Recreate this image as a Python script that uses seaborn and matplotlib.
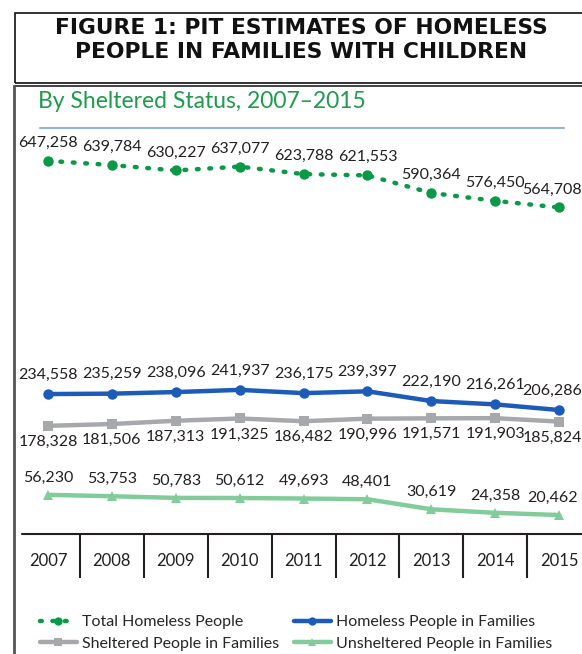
import matplotlib
matplotlib.use('Agg')
import matplotlib.pyplot as plt
import seaborn as sns
from matplotlib.lines import Line2D
from matplotlib.patches import Rectangle

# Data
years = ['2007', '2008', '2009', '2010', '2011', '2012', '2013', '2014', '2015']
total_homeless = [647258, 639784, 630227, 637077, 623788, 621553, 590364, 576450, 564708]
homeless_families = [234558, 235259, 238096, 241937, 236175, 239397, 222190, 216261, 206286]
sheltered_families = [178328, 181506, 187313, 191325, 186482, 190996, 191571, 191903, 185824]
unsheltered_families = [56230, 53753, 50783, 50612, 49693, 48401, 30619, 24358, 20462]
idx = list(range(len(years)))

# Style
sns.set_style('white')
plt.rcParams['font.family'] = ['Lato', 'DejaVu Sans']

W, H = 582, 654
fx = lambda px: px / W            # pixel -> figure fraction (x)
fy = lambda py: 1 - py / H        # pixel -> figure fraction (y)

fig = plt.figure(figsize=(W / 100, H / 100), dpi=100)

# Main line axes
ax = fig.add_axes([fx(16), fy(526.6), fx(566), (526.6 - 135) / H])
ax.set_xlim(-0.5, 8.357)
ax.set_ylim(0, 693000)

series = [
    ('Total Homeless People', total_homeless, '#0A9A47', 'o', dict(linestyle=(0, (0.4, 2.4)), dash_capstyle='round'), 13),
    ('Homeless People in Families', homeless_families, '#1C5CB8', 'o', dict(linestyle='-'), 14),
    ('Sheltered People in Families', sheltered_families, '#A6A8AB', 's', dict(linestyle='-'), -11.5),
    ('Unsheltered People in Families', unsheltered_families, '#82CC9C', '^', dict(linestyle='-'), 12.5),
]

handles = {}
for name, vals, col, mk, ls, dy in series:
    sns.lineplot(x=idx, y=vals, ax=ax, color=col, lw=3.2, marker=mk, markersize=7.5,
                 markeredgewidth=0, label=name, **ls)
    handles[name] = ax.lines[-1]
    for i, v in zip(idx, vals):
        dx = -5 if i == idx[-1] else 0   # keep the last label inside the page
        ax.annotate(f'{v:,}', (i, v), xytext=(dx, dy), textcoords='offset points',
                    ha='center', va='center', fontsize=11.5, color='#231F20')

if ax.get_legend() is not None:
    ax.get_legend().remove()
ax.axis('off')

# Year table below the chart
tab = fig.add_axes([fx(16), fy(578), fx(566), 44 / H])
tab.set_xlim(ax.get_xlim())
tab.set_ylim(0, 1)
tab.axhline(1, xmin=6 / 566, color='#231F20', lw=1.5, clip_on=False)
tab.vlines([i + 0.5 for i in idx[:-1]], 0, 1, color='#231F20', lw=1.5)
for i, y in zip(idx, years):
    tab.text(i, 0.38, y, ha='center', va='center', fontsize=12, color='#231F20')
tab.axis('off')

# Legends (two columns)
leg_kw = dict(frameon=False, fontsize=11.5, handlelength=2.3, handletextpad=0.3,
              labelspacing=0.45, borderpad=0, borderaxespad=0, loc='center left', markerscale=0.8)
fig.legend(handles=[handles['Total Homeless People'], handles['Sheltered People in Families']],
           bbox_to_anchor=(fx(40), fy(633)), **leg_kw)
fig.legend(handles=[handles['Homeless People in Families'], handles['Unsheltered People in Families']],
           bbox_to_anchor=(fx(294), fy(633)), **leg_kw)

# Title box
fig.add_artist(Rectangle((fx(15), fy(83)), fx(600), (83 - 13) / H, transform=fig.transFigure,
                         fill=False, edgecolor='#111111', lw=1.2))
fig.text(fx(301), fy(27.5), 'FIGURE 1: PIT ESTIMATES OF HOMELESS', ha='center', va='center',
         fontsize=15.7, fontweight='bold', family='DejaVu Sans', color='#111111')
fig.text(fx(301), fy(52.5), 'PEOPLE IN FAMILIES WITH CHILDREN', ha='center', va='center',
         fontsize=15.7, fontweight='bold', family='DejaVu Sans', color='#111111')

# Chart frame
fig.add_artist(Line2D([fx(14), fx(582)], [fy(86), fy(86)], transform=fig.transFigure, color='#222222', lw=1.2))
fig.add_artist(Line2D([fx(14), fx(14)], [fy(86), fy(654)], transform=fig.transFigure, color='#555555', lw=2))

# Subtitle and rule
fig.text(fx(38), fy(101), 'By Sheltered Status, 2007\u20132015', ha='left', va='center',
         fontsize=16.5, color='#1E9B4C')
fig.add_artist(Line2D([fx(40), fx(564)], [fy(128), fy(128)], transform=fig.transFigure, color='#91B5DE', lw=1.5))

fig.savefig('out.png', dpi=100)
